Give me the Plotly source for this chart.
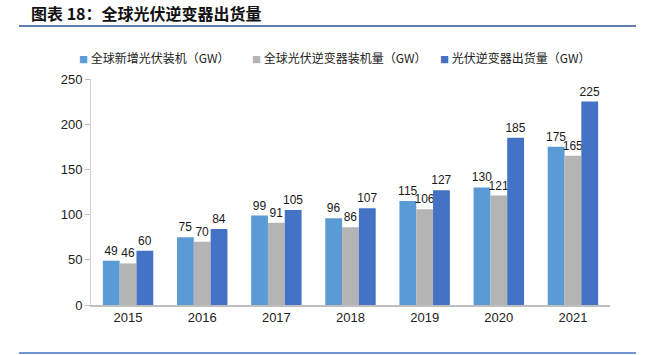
import plotly.graph_objects as go

years = ["2015", "2016", "2017", "2018", "2019", "2020", "2021"]
new_pv = [49, 75, 99, 96, 115, 130, 175]
inverter_installed = [46, 70, 91, 86, 106, 121, 165]
inverter_shipped = [60, 84, 105, 107, 127, 185, 225]
names = ["全球新增光伏装机（GW）", "全球光伏逆变器装机量（GW）", "光伏逆变器出货量（GW）"]
colors = ["#5B9BD5", "#B4B4B4", "#4472C4"]

fig = go.Figure()
for vals, name, col in zip([new_pv, inverter_installed, inverter_shipped], names, colors):
    fig.add_trace(go.Bar(
        x=years, y=vals, name=name, marker=dict(color=col, line=dict(width=0)),
        text=[str(v) for v in vals], textposition="outside", cliponaxis=False,
        constraintext="none",
        textfont=dict(size=12, color="#1a1a1a", family="Liberation Sans, Arial, sans-serif"),
    ))

W, H = 645, 355
L, R, T, B = 91, 35, 79, 50
pw, ph = W - L - R, H - T - B

def px(x):
    return (x - L) / pw

def py(y):
    return (H - B - y) / ph

legend_x = [77, 250, 438]
annotations = [
    dict(text="<b>图表 18：全球光伏逆变器出货量</b>", xref="paper", yref="paper",
         x=px(29), y=py(13), xanchor="left", yanchor="middle", showarrow=False,
         font=dict(size=16, family="Noto Sans CJK SC, sans-serif", color="#111111")),
]
for name, col, lx in zip(names, colors, legend_x):
    annotations.append(dict(
        text=f"<span style='color:{col};font-size:9px'>■</span> {name}",
        xref="paper", yref="paper", x=px(lx), y=py(58), xanchor="left", yanchor="middle",
        showarrow=False, font=dict(size=12, family="Noto Sans CJK SC, sans-serif", color="#222222"),
    ))

fig.update_layout(
    width=W, height=H,
    margin=dict(l=L, r=R, t=T, b=B),
    paper_bgcolor="white", plot_bgcolor="white",
    barmode="group", bargap=0.32, bargroupgap=0,
    font=dict(family="Liberation Sans, Arial, Noto Sans CJK SC, sans-serif", size=13, color="#222222"),
    showlegend=False,
    xaxis=dict(showline=True, linecolor="#BFBFBF", linewidth=1.5, ticks="", showgrid=False,
               tickfont=dict(size=13)),
    yaxis=dict(range=[0, 250], dtick=50, showline=True, linecolor="#D0D0D0", linewidth=1,
               ticks="outside", ticklen=5, tickcolor="#BFBFBF", showgrid=False, zeroline=False,
               tickfont=dict(size=13)),
    shapes=[
        dict(type="line", xref="paper", yref="paper", x0=px(19), x1=px(636), y0=py(26), y1=py(26),
             line=dict(color="#2F5597", width=1.5)),
        dict(type="line", xref="paper", yref="paper", x0=px(19), x1=px(636), y0=py(353), y1=py(353),
             line=dict(color="#4472C4", width=1.5)),
    ],
    annotations=annotations,
)

# remove the browser's default 8px body margin so the figure fills the window
fig.write_html("out.html", config={"displayModeBar": False},
               post_script="document.body.style.margin='0px';")
